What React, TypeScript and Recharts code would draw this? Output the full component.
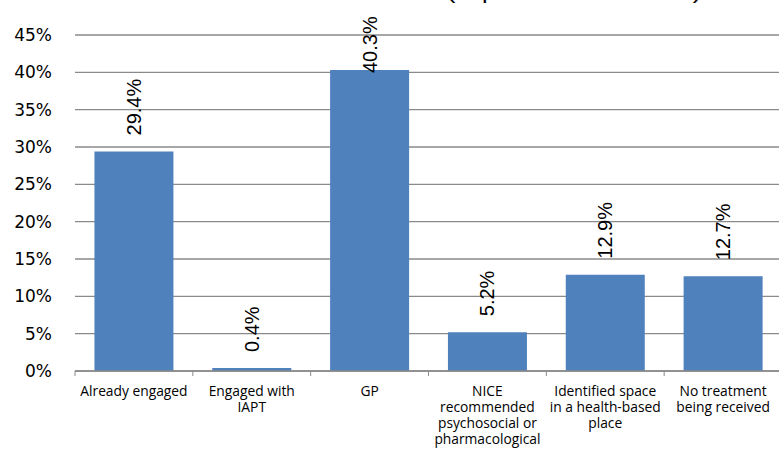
import React from "react";
import { BarChart, Bar, XAxis, YAxis, CartesianGrid, LabelList } from "recharts";

const categories = [
  "Already engaged",
  "Engaged with IAPT",
  "GP",
  "NICE recommended psychosocial or pharmacological",
  "Identified space in a health-based place",
  "No treatment being received",
];
const categoryLines: string[][] = [
  ["Already engaged"],
  ["Engaged with", "IAPT"],
  ["GP"],
  ["NICE", "recommended", "psychosocial or", "pharmacological"],
  ["Identified space", "in a health-based", "place"],
  ["No treatment", "being received"],
];
const values = [29.4, 0.4, 40.3, 5.2, 12.9, 12.7];
const yTicks = [0, 5, 10, 15, 20, 25, 30, 35, 40, 45];
const titleText = "(in percent of referrals)";

const data = categories.map((c, i) => ({ name: c, idx: i, value: values[i] }));

const GRID = "#8a8a8a";

const CatTick = (props: any) => {
  const { x, y, payload, index, width, visibleTicksCount } = props;
  const lines = categoryLines[payload.index ?? index] || [String(payload.value)];
  const count = visibleTicksCount || categories.length;
  const band = width ? width / count : 0;
  return (
    <g>
      {band > 0 && (
        <line x1={x - band / 2} x2={x - band / 2} y1={y - 8} y2={y - 3} stroke={GRID} strokeWidth={1} />
      )}
      {band > 0 && index === count - 1 && (
        <line x1={x + band / 2} x2={x + band / 2} y1={y - 8} y2={y - 3} stroke={GRID} strokeWidth={1} />
      )}
      <text x={x} y={y + 17} textAnchor="middle" fontFamily="'Open Sans', sans-serif" fontSize={13.8} fill="#000">
        {lines.map((l, i) => (
          <tspan key={i} x={x} dy={i === 0 ? 0 : 16}>
            {l}
          </tspan>
        ))}
      </text>
    </g>
  );
};

const ValueLabel = (props: any) => {
  const { x, y, width, value } = props;
  const txt = `${Number(value).toFixed(1)}%`;
  const len = txt.length * 11.6;
  const cx = x + width / 2;
  const by = Math.max(y - 16, 15 + len);
  return (
    <text
      x={cx}
      y={by}
      transform={`rotate(-90, ${cx}, ${by})`}
      textAnchor="start"
      dominantBaseline="central"
      fontFamily="'Liberation Sans', Arial, sans-serif"
      fontSize={20}
      fill="#000"
    >
      {txt}
    </text>
  );
};

export default function App() {
  return (
    <div style={{ position: "fixed", left: 0, top: 0, width: 779, height: 456, overflow: "hidden", background: "#fff" }}>
      <svg width={779} height={20} style={{ position: "absolute", left: 0, top: 0 }}>
        <text x={447} y={-1} fontFamily="'Liberation Sans', Arial, sans-serif" fontSize={20} textLength={254} lengthAdjust="spacingAndGlyphs" fill="#000">
          {titleText}
        </text>
      </svg>
      <div style={{ position: "absolute", left: 0, top: 0 }}>
        <BarChart
          width={790}
          height={456}
          data={data}
          margin={{ top: 35, right: 8, bottom: 0, left: 0 }}
          barCategoryGap="16.5%"
        >
          <CartesianGrid horizontal vertical={false} stroke={GRID} strokeWidth={1.3} />
          <XAxis
            dataKey="name"
            interval={0}
            height={85}
            axisLine={{ stroke: GRID, strokeWidth: 1.3 }}
            tickLine={false}
            tickSize={0}
            tickMargin={8}
            tick={<CatTick />}
          />
          <YAxis
            width={75}
            domain={[0, 45]}
            ticks={yTicks}
            interval={0}
            axisLine={false}
            tickLine={false}
            tickSize={0}
            tickMargin={23}
            tickFormatter={(v: number) => `${v}%`}
            tick={{ fontFamily: "'DejaVu Sans', sans-serif", fontSize: 17, fill: "#000" }}
          />
          <Bar dataKey="value" fill="#4f81bd" isAnimationActive={false}>
            <LabelList dataKey="value" content={<ValueLabel />} />
          </Bar>
        </BarChart>
      </div>
    </div>
  );
}
